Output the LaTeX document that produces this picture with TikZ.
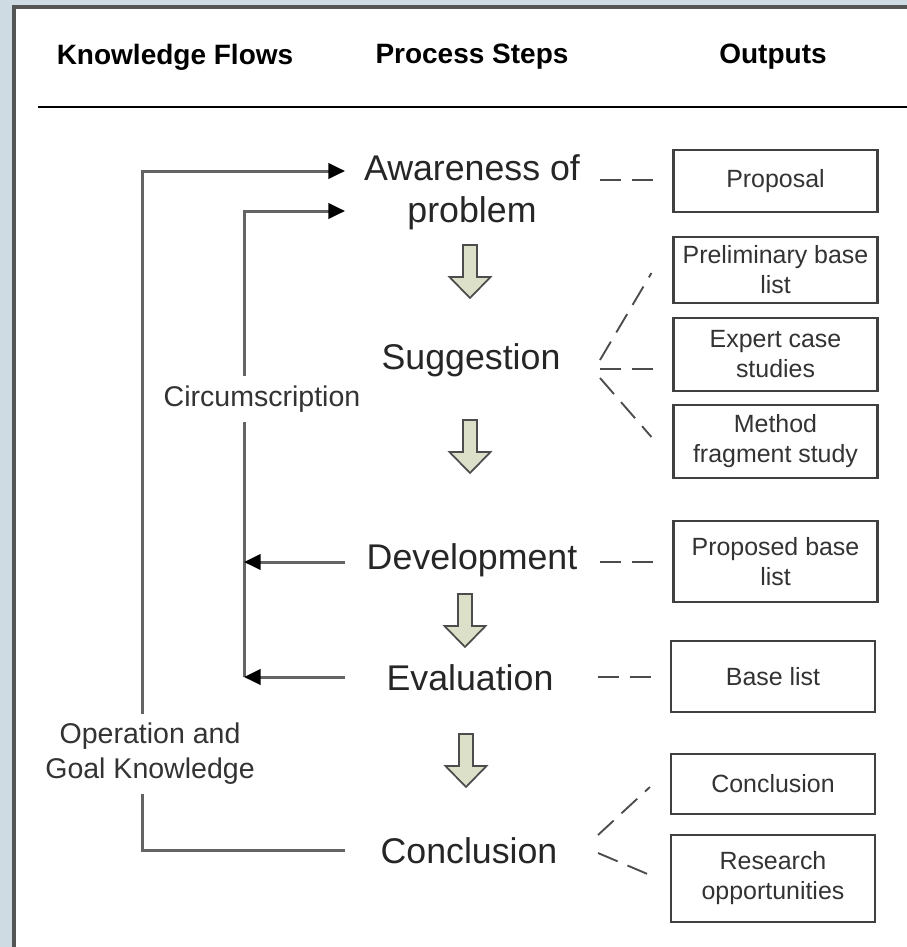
\documentclass[tikz,border=0pt]{standalone}
\usepackage{fontspec}
\setmainfont{Liberation Sans}
\usetikzlibrary{arrows.meta, positioning}
\definecolor{framebg}{RGB}{207, 219, 226}
\definecolor{framedge}{RGB}{85, 85, 85}
\definecolor{stepgreen}{RGB}{220, 224, 200}
\definecolor{flowgray}{RGB}{100, 100, 100}

\begin{document}
\begin{tikzpicture}[
  x=0.75pt, y=-0.75pt,
  >=Triangle,
  header/.style={font=\fontsize{21}{25}\selectfont\bfseries},
  stepnode/.style={font=\fontsize{26.8}{31.5}\selectfont, align=center,
    text=black!85, inner sep=0pt},
  outbox/.style={draw=black!75, line width=1.6pt, minimum width=153pt,
    font=\fontsize{18.7}{22.5}\selectfont, align=center, text=black!80,
    inner sep=0pt},
  flowlabel/.style={font=\fontsize{21.4}{26.2}\selectfont, align=center,
    fill=white, inner xsep=2pt, inner ysep=7pt, text=black!80},
  kflow/.style={draw=flowgray, line width=2.25pt,
    -{Triangle[length=12.5pt, width=11.5pt, black]}},
  link/.style={draw=black!70, line width=1.4pt, dash pattern=on 16pt off 8pt},
  blockarrow/.style={draw=black!70, fill=stepgreen, line width=1.3pt},
]
\useasboundingbox (0,0) rectangle (907,947);

% frame
\fill[framebg] (0,0) rectangle (907,947);
\fill[white] (12,5) rectangle (907,947);
\draw[framedge, line width=2.4pt] (14,947) -- (14,7) -- (907,7);

\def\colK{345}
\def\colO{142}
\def\colI{244}

% headers
\node[header] (hflow) at (175,57) {Knowledge Flows};
\node[header] (hstep) at (472,57) {Process Steps};
\node[header] (hout)  at (773,57) {Outputs};
\draw[line width=1.9pt] (38,107) -- (907,107);

% process steps
\node[stepnode] (aware) at (472,192) {Awareness of\\problem};
\node[stepnode] (sugg)  at (471,360) {Suggestion};
\node[stepnode] (devel) at (472,560) {Development};
\node[stepnode] (eval)  at (470,678) {Evaluation};
\node[stepnode] (concl) at (469,851) {Conclusion};

\foreach \ax/\ay in {470/245, 470/420, 465/594, 466/734}
  \draw[blockarrow] (\ax-7,\ay) -- (\ax+7,\ay) -- (\ax+7,\ay+32)
    -- (\ax+20.5,\ay+32) -- (\ax,\ay+53) -- (\ax-20.5,\ay+32)
    -- (\ax-7,\ay+32) -- cycle;

% outputs
\node[outbox, minimum height=46.5pt] (proposal) at (775.5,181)   {Proposal};
\node[outbox, minimum height=49.5pt] (prelim)   at (775.5,270)   {Preliminary base\\list};
\node[outbox, minimum height=54.5pt] (expert)   at (775.5,354.5) {Expert case\\studies};
\node[outbox, minimum height=54.5pt] (method)   at (775.5,441.5) {Method\\fragment study};
\node[outbox, minimum height=61pt]   (propbase) at (775.5,561.5) {Proposed base\\list};
\node[outbox, minimum height=53pt]   (baselist) at (773,676.5)   {Base list};
\node[outbox, minimum height=45pt]   (conclout) at (773,784)     {Conclusion};
\node[outbox, minimum height=65pt]   (research) at (773,878.5)   {Research\\opportunities};

% dashed links to outputs
\coordinate (awareEnd) at (600,180);
\coordinate (suggEnd)  at (600,369);
\coordinate (develEnd) at (600,562);
\coordinate (evalEnd)  at (598,677);
\coordinate (conclEnd) at (598,844);
\draw[link] (awareEnd) -- ([xshift=-13.5pt]awareEnd -| proposal.west);
\draw[link] ([yshift=6.75pt]suggEnd) -- ([xshift=-15.75pt, yshift=-2.25pt]prelim.west);
\draw[link] (suggEnd) -- ([xshift=-12pt]suggEnd -| expert.west);
\draw[link] ([yshift=-6.75pt]suggEnd) -- ([xshift=-15.75pt, yshift=3.4pt]method.west);
\draw[link] (develEnd) -- ([xshift=-12pt]develEnd -| propbase.west);
\draw[link] (evalEnd) -- ([xshift=-13.5pt]evalEnd -| baselist.west);
\draw[link] ([yshift=6.75pt]conclEnd) -- ([xshift=-15pt, yshift=-2.25pt]conclout.west);
\draw[link] ([yshift=-6.75pt]conclEnd) -- ([xshift=-15pt, yshift=2.6pt]research.west);

% knowledge flows
\coordinate (awareInA) at (\colK,171);
\coordinate (awareInB) at (\colK,211);
\coordinate (develOut) at (\colK,562);
\coordinate (evalOut)  at (\colK,677);
\coordinate (conclOut) at (\colK,850);

\draw[kflow] (conclOut) -- (\colO,850) -- (\colO,171) -- (awareInA);
\draw[kflow] (\colI,677) -- (\colI,211) -- (awareInB);
\draw[kflow] (develOut) -- (\colI,562);
\draw[kflow] (evalOut) -- (\colI,677);

\node[flowlabel] (circ)   at (262,399) {Circumscription};
\node[flowlabel] (opknow) at (150,754) {Operation and\\Goal Knowledge};

\end{tikzpicture}
\end{document}
